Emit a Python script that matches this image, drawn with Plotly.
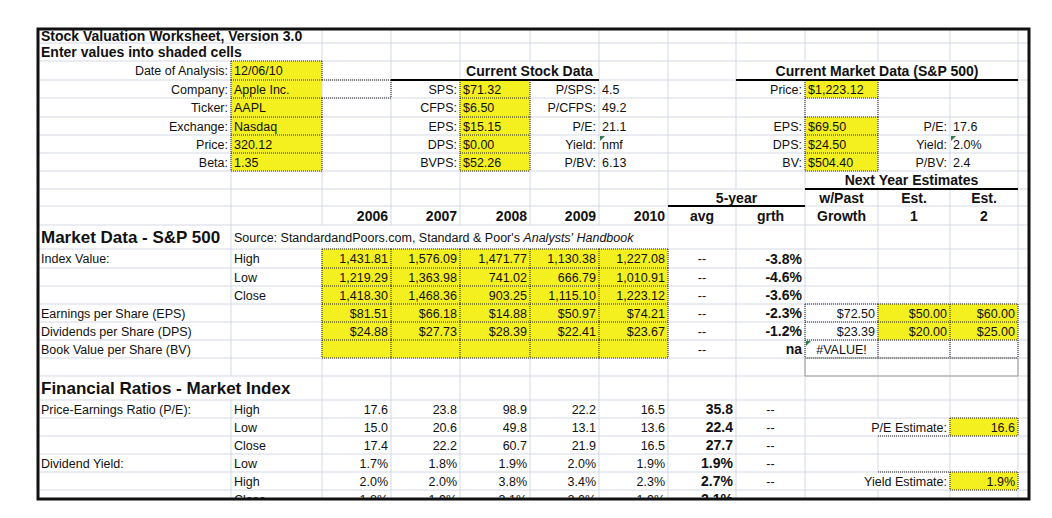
import plotly.graph_objects as go

# ---------------- worksheet values ----------------
input_labels = ['Date of Analysis:', 'Company:', 'Ticker:', 'Exchange:', 'Price:', 'Beta:']
input_values = ['12/06/10', 'Apple Inc.', 'AAPL', 'Nasdaq', '320.12', '1.35']

stock_labels = ['SPS:', 'CFPS:', 'EPS:', 'DPS:', 'BVPS:']
stock_values = ['$71.32', '$6.50', '$15.15', '$0.00', '$52.26']
stock_ratio_labels = ['P/SPS:', 'P/CFPS:', 'P/E:', 'Yield:', 'P/BV:']
stock_ratio_values = ['4.5', '49.2', '21.1', 'nmf', '6.13']

market_labels = ['Price:', '', 'EPS:', 'DPS:', 'BV:']
market_values = ['$1,223.12', '', '$69.50', '$24.50', '$504.40']
market_ratio_labels = ['', '', 'P/E:', 'Yield:', 'P/BV:']
market_ratio_values = ['', '', '17.6', '2.0%', '2.4']

years = ['2006', '2007', '2008', '2009', '2010']
index_high = [1431.81, 1576.09, 1471.77, 1130.38, 1227.08]
index_low = [1219.29, 1363.98, 741.02, 666.79, 1010.91]
index_close = [1418.30, 1468.36, 903.25, 1115.10, 1223.12]
eps_hist = [81.51, 66.18, 14.88, 50.97, 74.21]
dps_hist = [24.88, 27.73, 28.39, 22.41, 23.67]
growth_5yr = ['-3.8%', '-4.6%', '-3.6%', '-2.3%', '-1.2%', 'na']
eps_next = ['$72.50', '$50.00', '$60.00']
dps_next = ['$23.39', '$20.00', '$25.00']
bv_next = ['#VALUE!', '', '']

pe_high = [17.6, 23.8, 98.9, 22.2, 16.5]
pe_low = [15.0, 20.6, 49.8, 13.1, 13.6]
pe_close = [17.4, 22.2, 60.7, 21.9, 16.5]
pe_avg = [35.8, 22.4, 27.7]
dy_low = [1.7, 1.8, 1.9, 2.0, 1.9]
dy_high = [2.0, 2.0, 3.8, 3.4, 2.3]
dy_close = [1.8, 1.9, 3.1, 2.0, 1.9]
dy_avg = [1.9, 2.7, 2.1]
pe_estimate = 16.6
yield_estimate = 1.9

# ---------------- sheet geometry (pixels) ----------------
W, H = 1052, 518
col_x = [30, 223, 314, 383, 452, 522, 591, 660, 728, 797, 870, 942, 1010, 1021]
row_h = [14, 18, 19, 18, 19, 18, 18, 18, 18, 17, 19, 24, 19,
         18, 18, 18, 18, 18, 18, 24, 18, 18, 18, 18, 18, 18]
row_y = [21]
for h in row_h:
    row_y.append(row_y[-1] + h)
BOTTOM = 491
N_ROWS = len(row_h)

YELLOW = '#F4EF1F'
GRID = '#D5D9E6'
FONT = 'Liberation Sans'

texts = {'reg': [], 'bold': [], 'big': []}


def put(r, c, text, align='left', style='reg', c2=None):
    if text == '':
        return
    c2 = c if c2 is None else c2
    y = row_y[r] + row_h[r] / 2 + 1.5
    if align == 'left':
        x, pos = col_x[c] + 3, 'middle right'
    elif align == 'right':
        x, pos = col_x[c2 + 1] - 3, 'middle left'
    else:
        x, pos = (col_x[c] + col_x[c2 + 1]) / 2, 'middle center'
    if style != 'reg':
        text = '<b>' + text + '</b>'
    texts[style].append((x, y, text, pos))


# header block
put(0, 0, 'Stock Valuation Worksheet, Version 3.0', style='bold')
put(1, 0, 'Enter values into shaded cells', style='bold')
for i in range(len(input_labels)):
    put(2 + i, 0, input_labels[i], 'right')
    put(2 + i, 1, input_values[i])
put(2, 4, 'Current Stock Data', 'center', 'bold', c2=5)
put(2, 8, 'Current Market Data (S&amp;P 500)', 'center', 'bold', c2=11)
for i in range(5):
    r = 3 + i
    put(r, 3, stock_labels[i], 'right')
    put(r, 4, stock_values[i])
    put(r, 5, stock_ratio_labels[i], 'right')
    put(r, 6, stock_ratio_values[i])
    put(r, 8, market_labels[i], 'right')
    put(r, 9, market_values[i])
    put(r, 10, market_ratio_labels[i], 'right')
    put(r, 11, market_ratio_values[i])

put(8, 9, 'Next Year Estimates', 'center', 'bold', c2=11)
put(9, 7, '5-year', 'center', 'bold', c2=8)
put(9, 9, 'w/Past', 'center', 'bold')
put(9, 10, 'Est.', 'center', 'bold')
put(9, 11, 'Est.', 'center', 'bold')
for j, yr in enumerate(years):
    put(10, 2 + j, yr, 'right', 'bold')
put(10, 7, 'avg', 'center', 'bold')
put(10, 8, 'grth', 'center', 'bold')
put(10, 9, 'Growth', 'center', 'bold')
put(10, 10, '1', 'center', 'bold')
put(10, 11, '2', 'center', 'bold')

# market data block
put(11, 0, 'Market Data - S&amp;P 500', style='big')
put(11, 1, "Source: StandardandPoors.com, Standard &amp; Poor's <i>Analysts' Handbook</i>")
market_rows = [
    ('Index Value:', 'High', ['{:,.2f}'.format(v) for v in index_high]),
    ('', 'Low', ['{:,.2f}'.format(v) for v in index_low]),
    ('', 'Close', ['{:,.2f}'.format(v) for v in index_close]),
    ('Earnings per Share (EPS)', '', ['${:,.2f}'.format(v) for v in eps_hist]),
    ('Dividends per Share (DPS)', '', ['${:,.2f}'.format(v) for v in dps_hist]),
    ('Book Value per Share (BV)', '', ['', '', '', '', '']),
]
for i, (lab, sub, vals) in enumerate(market_rows):
    r = 12 + i
    put(r, 0, lab)
    put(r, 1, sub)
    for j, v in enumerate(vals):
        put(r, 2 + j, v, 'right')
    put(r, 7, '--', 'center')
    put(r, 8, growth_5yr[i], 'right', 'bold')
for j in range(3):
    put(15, 9 + j, eps_next[j], 'right')
    put(16, 9 + j, dps_next[j], 'right')
put(17, 9, bv_next[0], 'center')

# financial ratios block
put(19, 0, 'Financial Ratios - Market Index', style='big')
ratio_rows = [
    ('Price-Earnings Ratio (P/E):', 'High', ['{:.1f}'.format(v) for v in pe_high], '{:.1f}'.format(pe_avg[0])),
    ('', 'Low', ['{:.1f}'.format(v) for v in pe_low], '{:.1f}'.format(pe_avg[1])),
    ('', 'Close', ['{:.1f}'.format(v) for v in pe_close], '{:.1f}'.format(pe_avg[2])),
    ('Dividend Yield:', 'Low', ['{:.1f}%'.format(v) for v in dy_low], '{:.1f}%'.format(dy_avg[0])),
    ('', 'High', ['{:.1f}%'.format(v) for v in dy_high], '{:.1f}%'.format(dy_avg[1])),
    ('', 'Close', ['{:.1f}%'.format(v) for v in dy_close], '{:.1f}%'.format(dy_avg[2])),
]
for i, (lab, sub, vals, avg) in enumerate(ratio_rows):
    r = 20 + i
    put(r, 0, lab)
    put(r, 1, sub)
    for j, v in enumerate(vals):
        put(r, 2 + j, v, 'right')
    put(r, 7, avg, 'right', 'bold')
    put(r, 8, '--', 'center')
put(21, 10, 'P/E Estimate:', 'right')
put(21, 11, '{:.1f}'.format(pe_estimate), 'right')
put(24, 10, 'Yield Estimate:', 'right')
put(24, 11, '{:.1f}%'.format(yield_estimate), 'right')

# ---------------- shapes ----------------
shapes = []


def seg(x0, y0, x1, y1, color, width, dash='solid', layer='below'):
    shapes.append(dict(type='line', xref='x', yref='y', x0=x0, y0=y0, x1=x1, y1=y1,
                       line=dict(color=color, width=width, dash=dash), layer=layer))


# light grid: horizontal
for k in range(1, N_ROWS):
    seg(col_x[0], row_y[k], col_x[-1], row_y[k], GRID, 1)

# light grid: vertical, broken where text spills or cells are merged
hidden_v = {(0, 1), (1, 1), (2, 5), (2, 9), (2, 10), (2, 11), (8, 10), (8, 11), (9, 8),
            (11, 2), (11, 3), (11, 4), (11, 5), (11, 6), (19, 1), (21, 10), (24, 10)}
for b in range(1, len(col_x) - 1):
    start = None
    for r in range(N_ROWS + 1):
        show = r < N_ROWS and (r, b) not in hidden_v
        if show and start is None:
            start = r
        if not show and start is not None:
            seg(col_x[b], row_y[start], col_x[b], row_y[r], GRID, 1)
            start = None

# shaded input cells
yellow_cells = ([(r, 1) for r in range(2, 8)] + [(r, 4) for r in range(3, 8)] +
                [(r, 9) for r in (3, 5, 6, 7)] +
                [(r, c) for r in range(12, 18) for c in range(2, 7)] +
                [(r, c) for r in (15, 16) for c in (10, 11)] + [(21, 11), (24, 11)])
for r, c in yellow_cells:
    shapes.append(dict(type='rect', xref='x', yref='y', x0=col_x[c], x1=col_x[c + 1],
                       y0=row_y[r], y1=row_y[r + 1], fillcolor=YELLOW, line=dict(width=0),
                       layer='below'))

# dotted cell borders (deduplicated edges)
boxed = ([(r, 1, 1) for r in (2, 4, 5, 6, 7)] + [(3, 1, 2)] +
         [(r, 4, 4) for r in range(3, 8)] + [(r, 9, 9) for r in range(3, 8)] +
         [(r, c, c) for r in range(12, 18) for c in range(2, 7)] +
         [(r, c, c) for r in range(15, 18) for c in range(9, 12)] + [(21, 11, 11), (24, 11, 11)])
h_edges, v_edges = set(), set()
for r, c0, c1 in boxed:
    for c in range(c0, c1 + 1):
        h_edges.add((r, c))
        h_edges.add((r + 1, c))
    v_edges.add((c0, r))
    v_edges.add((c1 + 1, r))
h_edges.update({(22, 10), (24, 10)})
DOT = '#222222'
for rb, c in sorted(h_edges):
    seg(col_x[c], row_y[rb], col_x[c + 1], row_y[rb], DOT, 1, '1px,1px')
for cb, r in sorted(v_edges):
    seg(col_x[cb], row_y[r], col_x[cb], row_y[r + 1], DOT, 1, '1px,1px')

# heavy underlines under section headings
seg(col_x[3], row_y[3], col_x[6], row_y[3], 'black', 2)
seg(col_x[8], row_y[3], col_x[12], row_y[3], 'black', 2)
seg(col_x[9], row_y[9], col_x[12], row_y[9], 'black', 2)
seg(col_x[7], row_y[10], col_x[9], row_y[10], 'black', 2)

# grey outline below the estimates block
shapes.append(dict(type='rect', xref='x', yref='y', x0=col_x[9], x1=col_x[12],
                   y0=row_y[18], y1=row_y[19], line=dict(color='#9A9A9A', width=1),
                   layer='below'))

# green error-indicator triangles
for r, c in [(6, 6), (6, 11), (17, 9)]:
    x0, y0 = col_x[c] + 1, row_y[r] + 1
    shapes.append(dict(type='path', xref='x', yref='y',
                       path=f'M {x0},{y0} L {x0 + 5},{y0} L {x0},{y0 + 5} Z',
                       fillcolor='#2F7D4F', line=dict(width=0), layer='above'))

# window edge below the sheet and the outer frame
shapes.append(dict(type='rect', xref='x', yref='y', x0=0, x1=W, y0=BOTTOM, y1=H,
                   fillcolor='white', line=dict(width=0), layer='above'))
shapes.append(dict(type='rect', xref='x', yref='y', x0=col_x[0], x1=col_x[-1],
                   y0=row_y[0], y1=BOTTOM, line=dict(color='#111111', width=3),
                   layer='above'))

# ---------------- figure ----------------
fig = go.Figure()
sizes = {'reg': 12.5, 'bold': 14, 'big': 17}
for style, items in texts.items():
    fig.add_trace(go.Scatter(
        x=[t[0] for t in items],
        y=[t[1] for t in items],
        text=[t[2] for t in items],
        textposition=[t[3] for t in items],
        mode='text',
        textfont=dict(family=FONT, size=sizes[style], color='#111111'),
        hoverinfo='skip',
        showlegend=False,
        cliponaxis=False
    ))

fig.update_layout(
    width=W, height=H,
    margin=dict(l=0, r=0, t=0, b=0),
    paper_bgcolor='white', plot_bgcolor='white',
    xaxis=dict(range=[0, W], visible=False, fixedrange=True),
    yaxis=dict(range=[H, 0], visible=False, fixedrange=True),
    shapes=shapes
)

fig.write_html("out.html")
